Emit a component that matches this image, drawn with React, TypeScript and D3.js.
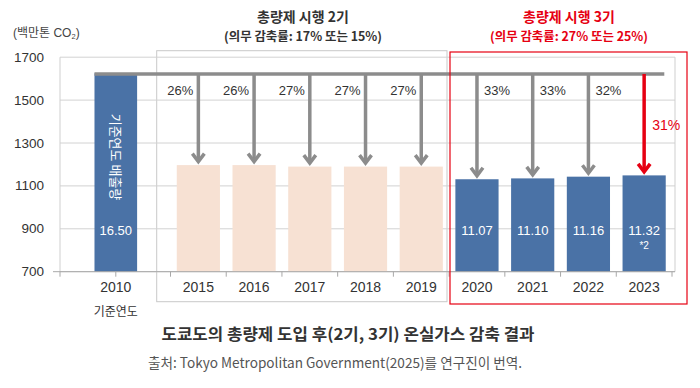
import React, { useEffect, useRef } from 'react';
import * as d3 from 'd3';

// 기준연도 + 2기(2015-2019) + 3기(2020-2023)
const baseYear = '2010';
const years = ['2015', '2016', '2017', '2018', '2019', '2020', '2021', '2022', '2023'];
const baseEmission = 1625;
const emissions = [1197, 1197, 1190, 1190, 1190, 1131, 1135, 1143, 1149];
const phase3Years = ['2020', '2021', '2022', '2023'];
const phase3Labels = ['11.07', '11.10', '11.16', '11.32'];
const reductions = ['26%', '26%', '27%', '27%', '27%', '33%', '33%', '32%', '31%'];
const yTicks = [700, 900, 1100, 1300, 1500, 1700];

const FONT = "'Liberation Sans', Arial, 'Noto Sans CJK KR', sans-serif";
const KFONT = "'Noto Sans CJK KR', 'Liberation Sans', sans-serif";
const BLUE = '#4a72a6';
const PEACH = '#f7e1d3';
const GRAY = '#8c8c8c';
const RED = '#e60012';

const App = () => {
  const ref = useRef<SVGSVGElement | null>(null);

  useEffect(() => {
    const width = 700;
    const height = 388;
    const svg = d3.select(ref.current).attr('width', width).attr('height', height);
    svg.selectAll('*').remove();

    const left = 60;
    const right = 675;

    const y = d3.scaleLinear().domain([700, 1700]).range([271.7, 57.2]);
    const x = d3.scaleBand().domain(years).range([170.5, 672]).paddingInner(0.225).paddingOuter(0.1125);
    const xBase = d3.scaleBand().domain([baseYear]).range([88.3, 143.3]).paddingInner(0.225).paddingOuter(0.1125);
    const cx = (d: string) => (x(d) as number) + x.bandwidth() / 2;
    const baseCx = (xBase(baseYear) as number) + xBase.bandwidth() / 2;

    // 구간 박스
    svg.append('rect')
      .attr('x', 156.7).attr('y', 50.7).attr('width', 447 - 156.7).attr('height', 301.7 - 50.7)
      .attr('fill', 'none').attr('stroke', '#c9c9c9').attr('stroke-width', 1);

    // grid
    svg.append('g').selectAll('line').data(yTicks).enter().append('line')
      .attr('x1', left).attr('x2', right)
      .attr('y1', d => y(d)).attr('y2', d => y(d))
      .attr('stroke', '#d2d2d2').attr('stroke-width', 1);
    svg.append('line').attr('x1', left).attr('x2', left).attr('y1', y(1700)).attr('y2', y(700))
      .attr('stroke', '#cfcfcf');
    svg.append('line').attr('x1', right).attr('x2', right).attr('y1', y(1700)).attr('y2', y(700))
      .attr('stroke', '#cfcfcf');

    svg.append('g').selectAll('text').data(yTicks).enter().append('text')
      .attr('x', 44).attr('y', d => y(d) + 4.5)
      .attr('text-anchor', 'end').attr('font-family', FONT).attr('font-size', 13.5).attr('fill', '#333')
      .text(d => d);

    const unit = svg.append('text').attr('x', 13).attr('y', 37)
      .attr('font-family', FONT).attr('font-size', 12).attr('fill', '#444');
    unit.append('tspan').text('(백만톤 CO');
    unit.append('tspan').attr('font-size', 7.5).attr('dy', 2).text('2');
    unit.append('tspan').attr('dy', -2).text(')');

    // bars
    svg.append('rect')
      .attr('x', xBase(baseYear) as number).attr('y', y(baseEmission))
      .attr('width', xBase.bandwidth()).attr('height', y(700) - y(baseEmission))
      .attr('fill', BLUE);
    svg.append('g').selectAll('rect').data(years).enter().append('rect')
      .attr('x', d => x(d) as number)
      .attr('y', (d, i) => y(emissions[i]))
      .attr('width', x.bandwidth())
      .attr('height', (d, i) => y(700) - y(emissions[i]))
      .attr('fill', d => (phase3Years.includes(d) ? BLUE : PEACH));

    // x axis
    const axisY = y(700);
    svg.append('line').attr('x1', 53).attr('x2', right).attr('y1', axisY).attr('y2', axisY)
      .attr('stroke', '#a8a8a8');
    const tickXs = [left, baseCx, ...years.map(d => (x(d) as number) - x.step() * x.paddingInner() / 2), 672];
    svg.append('g').selectAll('line').data(tickXs).enter().append('line')
      .attr('x1', d => d).attr('x2', d => d).attr('y1', axisY).attr('y2', axisY + 5)
      .attr('stroke', '#a8a8a8');
    svg.append('g').selectAll('text').data([baseYear, ...years]).enter().append('text')
      .attr('x', d => (d === baseYear ? baseCx : cx(d)))
      .attr('y', 292)
      .attr('text-anchor', 'middle').attr('font-family', FONT).attr('font-size', 14).attr('fill', '#333')
      .text(d => d);
    svg.append('text').attr('x', baseCx).attr('y', 315.5)
      .attr('text-anchor', 'middle').attr('font-family', KFONT).attr('font-size', 12).attr('fill', '#333')
      .text('기준연도');

    // 감축 화살표
    const lineY = y(baseEmission) + 0.7;
    svg.append('line')
      .attr('x1', xBase(baseYear) as number).attr('x2', 664.3).attr('y1', lineY).attr('y2', lineY)
      .attr('stroke', GRAY).attr('stroke-width', 3.5);

    years.forEach((d, i) => {
      const last = i === years.length - 1;
      const color = last ? RED : GRAY;
      const tip = y(emissions[i]) - 1.5;
      svg.append('line')
        .attr('x1', cx(d)).attr('x2', cx(d)).attr('y1', lineY).attr('y2', tip - 2)
        .attr('stroke', color).attr('stroke-width', 3.5);
      svg.append('path')
        .attr('d', `M${cx(d) - 6},${tip - 10}L${cx(d)},${tip - 2}L${cx(d) + 6},${tip - 10}`)
        .attr('fill', 'none').attr('stroke', color).attr('stroke-width', 3.5);

      const phase3 = phase3Years.includes(d);
      svg.append('text')
        .attr('x', last ? cx(d) + 8 : phase3 ? cx(d) + 7 : cx(d) - 5)
        .attr('y', last ? 130 : 95)
        .attr('text-anchor', phase3 ? 'start' : 'end')
        .attr('font-family', FONT).attr('font-size', last ? 14 : 13)
        .attr('fill', last ? RED : '#333')
        .text(reductions[i]);
    });

    // 막대 안 텍스트
    svg.append('text')
      .attr('transform', `translate(${baseCx - 4.5},157) rotate(90)`)
      .attr('text-anchor', 'middle').attr('font-family', KFONT).attr('font-size', 13).attr('fill', '#fff')
      .text('기준연도 배출량');
    svg.append('text').attr('x', baseCx).attr('y', 235)
      .attr('text-anchor', 'middle').attr('font-family', FONT).attr('font-size', 13).attr('fill', '#fff')
      .text('16.50');
    svg.append('g').selectAll('text').data(phase3Years).enter().append('text')
      .attr('x', d => cx(d)).attr('y', 235)
      .attr('text-anchor', 'middle').attr('font-family', FONT).attr('font-size', 13).attr('fill', '#fff')
      .text((d, i) => phase3Labels[i]);
    svg.append('text').attr('x', cx('2023')).attr('y', 249)
      .attr('text-anchor', 'middle').attr('font-family', FONT).attr('font-size', 10).attr('fill', '#fff')
      .text('*2');

    // 3기 박스
    svg.append('rect')
      .attr('x', 450).attr('y', 52).attr('width', 687 - 450).attr('height', 304 - 52)
      .attr('fill', 'none').attr('stroke', RED).attr('stroke-width', 1.2);

    // 구간 제목
    const heads = [
      { cx: 303, color: '#333', t1: '총량제 시행 2기', t2: '(의무 감축률: 17% 또는 15%)' },
      { cx: 569, color: RED, t1: '총량제 시행 3기', t2: '(의무 감축률: 27% 또는 25%)' },
    ];
    heads.forEach(h => {
      svg.append('text').attr('x', h.cx).attr('y', 21.5)
        .attr('text-anchor', 'middle').attr('font-family', KFONT).attr('font-size', 14)
        .attr('font-weight', 'bold').attr('fill', h.color).text(h.t1);
      svg.append('text').attr('x', h.cx).attr('y', 41)
        .attr('text-anchor', 'middle').attr('font-family', KFONT).attr('font-size', 12.5)
        .attr('font-weight', 'bold').attr('fill', h.color)
        .attr('textLength', 158).attr('lengthAdjust', 'spacingAndGlyphs')
        .text(h.t2);
    });

    // 하단 제목 / 출처
    svg.append('text').attr('x', 348).attr('y', 340)
      .attr('text-anchor', 'middle').attr('font-family', KFONT).attr('font-size', 16)
      .attr('font-weight', 'bold').attr('fill', '#333')
      .attr('textLength', 373).attr('lengthAdjust', 'spacingAndGlyphs')
      .text('도쿄도의 총량제 도입 후(2기, 3기) 온실가스 감축 결과');
    svg.append('text').attr('x', 335).attr('y', 368)
      .attr('text-anchor', 'middle').attr('font-family', KFONT).attr('font-size', 14).attr('fill', '#555')
      .attr('textLength', 374).attr('lengthAdjust', 'spacingAndGlyphs')
      .text('출처: Tokyo Metropolitan Government(2025)를 연구진이 번역.');

    return () => {
      svg.selectAll('*').remove();
    };
  }, []);

  return (
    <div style={{ position: 'absolute', left: 0, top: 0 }}>
      <svg ref={ref} style={{ display: 'block', background: '#fff' }}></svg>
    </div>
  );
};

export default App;
